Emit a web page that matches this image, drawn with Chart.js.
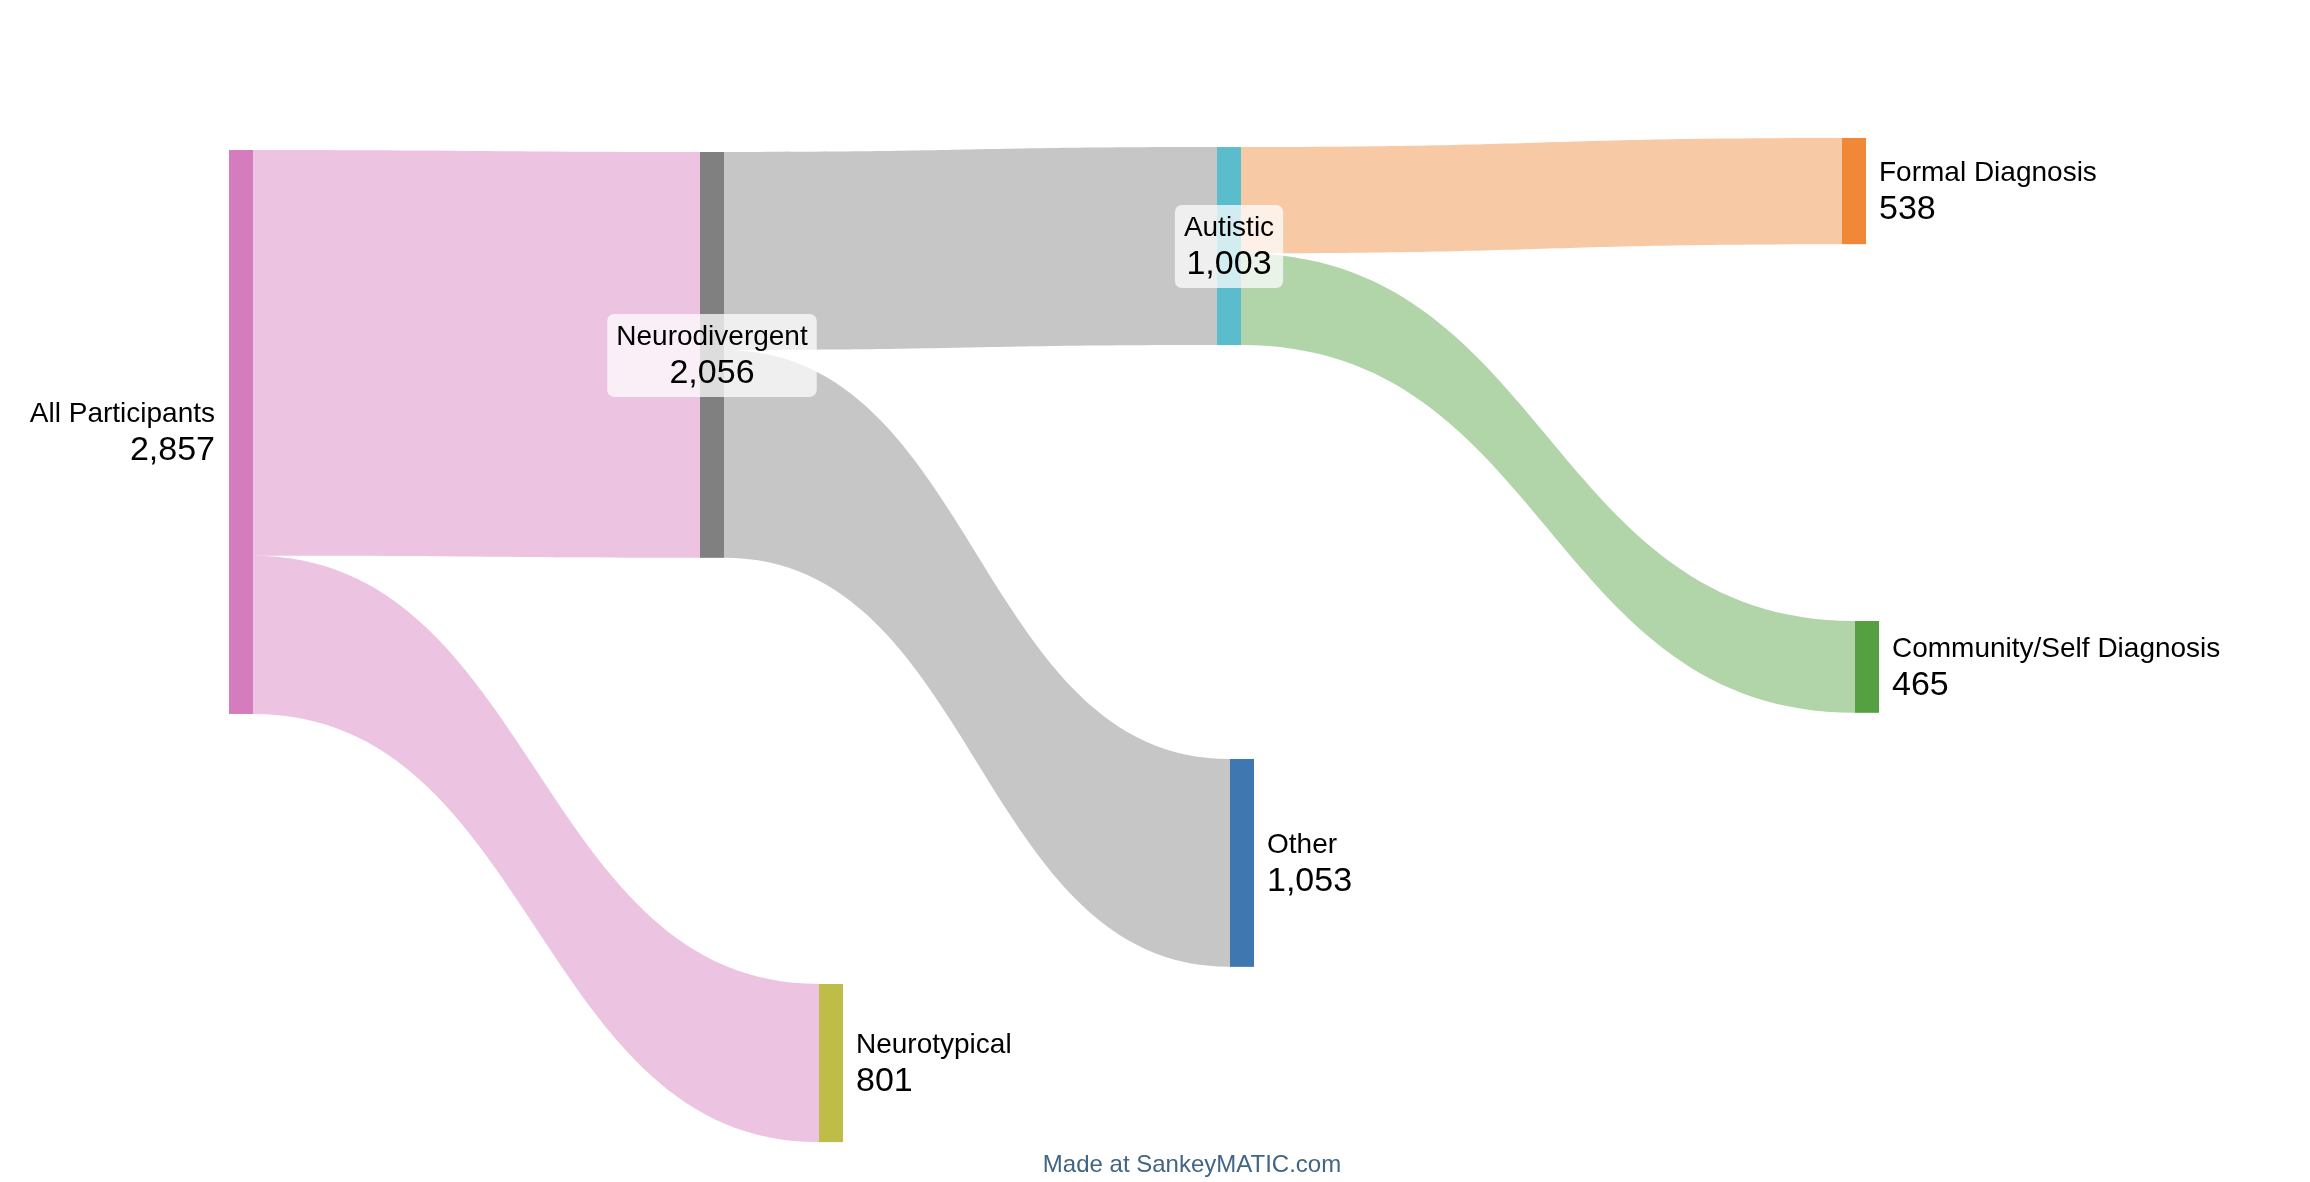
<!DOCTYPE html>
<html>
<head>
<meta charset="utf-8">
<script src="https://cdn.jsdelivr.net/npm/chart.js@4.4.1/dist/chart.umd.min.js"></script>
<style>
  html, body { margin: 0; padding: 0; background: #fff; }
  #wrap { width: 2310px; height: 1182px; position: relative; }
</style>
</head>
<body>
<div id="wrap"><canvas id="chart"></canvas></div>
<script>
// Données du diagramme
const nodeNames = ['All Participants', 'Neurodivergent', 'Neurotypical', 'Autistic', 'Other', 'Formal Diagnosis', 'Community/Self Diagnosis'];
const linkSource = [0, 0, 1, 1, 3, 3];
const linkTarget = [1, 2, 3, 4, 5, 6];
const linkValues = [2056, 801, 1003, 1053, 538, 465];

// Mise en page (position des noeuds, en unités des axes)
const nodeLeft = [229, 700, 819, 1217, 1230, 1842, 1855];
const nodeTop = [0, 10, 4225, -15, 3085, -61, 2386];
const nodeWidth = 24;
const labelSide = ['left', 'center', 'right', 'center', 'right', 'right', 'right'];

// Couleurs
const nodeColors = ['#d47cbe', '#808080', '#bdbd47', '#5bbccc', '#3f77b0', '#f08838', '#55a040'];
const linkColorFrom = ['source', 'source', 'source', 'source', 'target', 'target'];
const linkAlpha = 0.45;

// Valeur de chaque noeud = max(entrées, sorties)
const nodeValues = nodeNames.map((_, i) => {
  let inSum = 0, outSum = 0;
  linkValues.forEach((v, k) => {
    if (linkTarget[k] === i) inSum += v;
    if (linkSource[k] === i) outSum += v;
  });
  return Math.max(inSum, outSum);
});

function hexToRgba(hex, a) {
  const n = parseInt(hex.slice(1), 16);
  return 'rgba(' + ((n >> 16) & 255) + ',' + ((n >> 8) & 255) + ',' + (n & 255) + ',' + a + ')';
}

const FONT = '"Liberation Sans", Arial, Helvetica, sans-serif';

const sankeyPlugin = {
  id: 'sankey',
  afterDraw(chart) {
    const ctx = chart.ctx;
    const xs = chart.scales.x, ys = chart.scales.y;

    // Décalages d'empilement pour les liens
    const outOffset = nodeNames.map(() => 0);
    const inOffset = nodeNames.map(() => 0);

    ctx.save();
    // Liens
    linkValues.forEach((v, k) => {
      const s = linkSource[k], t = linkTarget[k];
      const x0 = xs.getPixelForValue(nodeLeft[s] + nodeWidth);
      const x1 = xs.getPixelForValue(nodeLeft[t]);
      const y0t = ys.getPixelForValue(nodeTop[s] + outOffset[s]);
      const y0b = ys.getPixelForValue(nodeTop[s] + outOffset[s] + v);
      const y1t = ys.getPixelForValue(nodeTop[t] + inOffset[t]);
      const y1b = ys.getPixelForValue(nodeTop[t] + inOffset[t] + v);
      outOffset[s] += v;
      inOffset[t] += v;
      const xm = (x0 + x1) / 2;
      ctx.beginPath();
      ctx.moveTo(x0, y0t);
      ctx.bezierCurveTo(xm, y0t, xm, y1t, x1, y1t);
      ctx.lineTo(x1, y1b);
      ctx.bezierCurveTo(xm, y1b, xm, y0b, x0, y0b);
      ctx.closePath();
      const base = linkColorFrom[k] === 'source' ? nodeColors[s] : nodeColors[t];
      ctx.fillStyle = hexToRgba(base, linkAlpha);
      ctx.fill();
    });

    // Noeuds
    nodeNames.forEach((name, i) => {
      const x0 = xs.getPixelForValue(nodeLeft[i]);
      const x1 = xs.getPixelForValue(nodeLeft[i] + nodeWidth);
      const y0 = ys.getPixelForValue(nodeTop[i]);
      const y1 = ys.getPixelForValue(nodeTop[i] + nodeValues[i]);
      ctx.fillStyle = nodeColors[i];
      ctx.fillRect(x0, y0, x1 - x0, y1 - y0);
    });

    // Étiquettes
    nodeNames.forEach((name, i) => {
      const x0 = xs.getPixelForValue(nodeLeft[i]);
      const x1 = xs.getPixelForValue(nodeLeft[i] + nodeWidth);
      const cy = (ys.getPixelForValue(nodeTop[i]) + ys.getPixelForValue(nodeTop[i] + nodeValues[i])) / 2;
      const valText = nodeValues[i].toLocaleString('en-US');
      const nameY = cy - 10, valY = cy + 28;
      let tx, align;
      if (labelSide[i] === 'left') { tx = x0 - 14; align = 'right'; }
      else if (labelSide[i] === 'right') { tx = x1 + 13; align = 'left'; }
      else {
        tx = (x0 + x1) / 2; align = 'center';
        ctx.font = '28px ' + FONT;
        const w1 = ctx.measureText(name).width;
        ctx.font = '34px ' + FONT;
        const w2 = ctx.measureText(valText).width;
        const bw = Math.max(w1, w2) + 18;
        const bt = nameY - 31, bb = valY + 14;
        ctx.fillStyle = 'rgba(255,255,255,0.73)';
        ctx.beginPath();
        ctx.roundRect(tx - bw / 2, bt, bw, bb - bt, 7);
        ctx.fill();
      }
      ctx.fillStyle = '#000';
      ctx.textAlign = align;
      ctx.textBaseline = 'alphabetic';
      ctx.font = '28px ' + FONT;
      ctx.fillText(name, tx, nameY);
      ctx.font = '34px ' + FONT;
      ctx.fillText(valText, tx, valY);
    });

    // Mention
    ctx.fillStyle = 'rgb(64,101,133)';
    ctx.font = '24px ' + FONT;
    ctx.textAlign = 'center';
    ctx.fillText('Made at SankeyMATIC.com', 1192, 1172);
    ctx.restore();
  }
};

new Chart(document.getElementById('chart'), {
  type: 'scatter',
  data: { datasets: [] },
  options: {
    responsive: true,
    maintainAspectRatio: false,
    devicePixelRatio: 1,
    animation: false,
    layout: { padding: 0 },
    plugins: { legend: { display: false }, tooltip: { enabled: false } },
    scales: {
      x: { type: 'linear', min: 0, max: 2310, display: false },
      y: { type: 'linear', min: -760, max: 5228, reverse: true, display: false }
    }
  },
  plugins: [sankeyPlugin]
});
</script>
</body>
</html>
